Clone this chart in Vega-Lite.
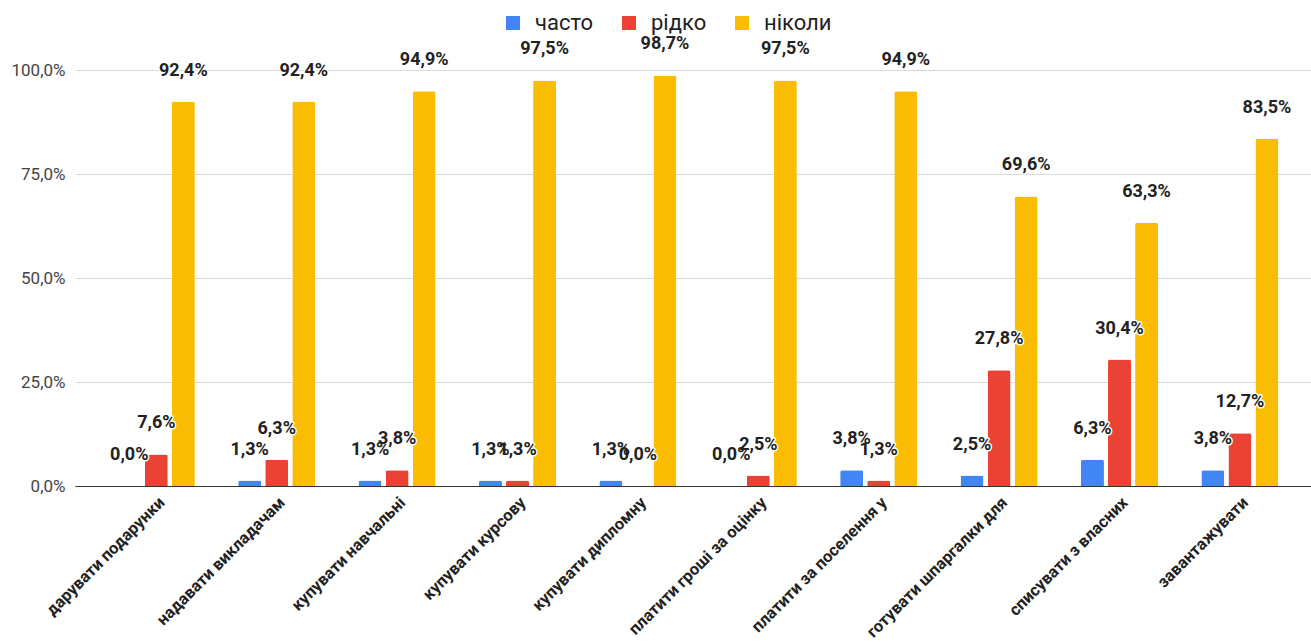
{
  "$schema": "https://vega.github.io/schema/vega-lite/v6.json",
  "width": 1236,
  "height": 416,
  "autosize": {"type": "none"},
  "padding": {"left": 75, "top": 70, "right": 0, "bottom": 156},
  "config": {
    "locale": {"number": {"decimal": ",", "thousands": " ", "grouping": [3], "currency": ["", " ₴"]}},
    "view": {"stroke": null},
    "font": "Roboto"
  },
  "data": {
    "values": [
      {"cat": "дарувати подарунки", "series": "часто", "value": 0.0},
      {"cat": "дарувати подарунки", "series": "рідко", "value": 0.076},
      {"cat": "дарувати подарунки", "series": "ніколи", "value": 0.924},
      {"cat": "надавати викладачам", "series": "часто", "value": 0.013},
      {"cat": "надавати викладачам", "series": "рідко", "value": 0.063},
      {"cat": "надавати викладачам", "series": "ніколи", "value": 0.924},
      {"cat": "купувати навчальні", "series": "часто", "value": 0.013},
      {"cat": "купувати навчальні", "series": "рідко", "value": 0.038},
      {"cat": "купувати навчальні", "series": "ніколи", "value": 0.949},
      {"cat": "купувати курсову", "series": "часто", "value": 0.013},
      {"cat": "купувати курсову", "series": "рідко", "value": 0.013},
      {"cat": "купувати курсову", "series": "ніколи", "value": 0.975},
      {"cat": "купувати дипломну", "series": "часто", "value": 0.013},
      {"cat": "купувати дипломну", "series": "рідко", "value": 0.0},
      {"cat": "купувати дипломну", "series": "ніколи", "value": 0.987},
      {"cat": "платити гроші за оцінку", "series": "часто", "value": 0.0},
      {"cat": "платити гроші за оцінку", "series": "рідко", "value": 0.025},
      {"cat": "платити гроші за оцінку", "series": "ніколи", "value": 0.975},
      {"cat": "платити за поселення у", "series": "часто", "value": 0.038},
      {"cat": "платити за поселення у", "series": "рідко", "value": 0.013},
      {"cat": "платити за поселення у", "series": "ніколи", "value": 0.949},
      {"cat": "готувати шпаргалки для", "series": "часто", "value": 0.025},
      {"cat": "готувати шпаргалки для", "series": "рідко", "value": 0.278},
      {"cat": "готувати шпаргалки для", "series": "ніколи", "value": 0.696},
      {"cat": "списувати з власних", "series": "часто", "value": 0.063},
      {"cat": "списувати з власних", "series": "рідко", "value": 0.304},
      {"cat": "списувати з власних", "series": "ніколи", "value": 0.633},
      {"cat": "завантажувати", "series": "часто", "value": 0.038},
      {"cat": "завантажувати", "series": "рідко", "value": 0.127},
      {"cat": "завантажувати", "series": "ніколи", "value": 0.835}
    ]
  },
  "encoding": {
    "x": {
      "field": "cat", "type": "nominal", "sort": null,
      "scale": {"paddingInner": 0, "paddingOuter": 0.133, "align": 0.66},
      "axis": {
        "title": null, "labelAngle": -45, "labelFontSize": 16.5, "labelFontWeight": "bold",
        "labelColor": "#222", "ticks": false, "domainColor": "#333", "labelPadding": 8,
        "grid": false, "labelLimit": 300
      }
    },
    "xOffset": {
      "field": "series", "type": "nominal", "sort": ["часто", "рідко", "ніколи"],
      "scale": {"paddingInner": 0.15, "paddingOuter": 0.8}
    },
    "y": {
      "field": "value", "type": "quantitative",
      "scale": {"domain": [0, 1]},
      "axis": {
        "title": null, "values": [0, 0.25, 0.5, 0.75, 1], "format": ".1%", "domain": false,
        "ticks": false, "labelFontSize": 17, "labelColor": "#444", "labelPadding": 10,
        "gridColor": "#d9d9d9"
      }
    }
  },
  "layer": [
    {
      "mark": {"type": "bar", "cornerRadiusEnd": 2},
      "encoding": {
        "color": {
          "field": "series", "type": "nominal",
          "scale": {"domain": ["часто", "рідко", "ніколи"], "range": ["#4285F4", "#EA4335", "#FBBC04"]},
          "legend": {
            "title": null, "orient": "none", "legendX": 427, "legendY": -58,
            "direction": "horizontal", "symbolType": "square", "symbolSize": 196,
            "symbolStrokeWidth": 0, "labelFontSize": 22, "labelColor": "#222",
            "labelOffset": 11, "columnPadding": 24
          }
        }
      }
    },
    {
      "mark": {"type": "text", "dy": -31, "fontWeight": "bold", "fontSize": 18, "stroke": "white", "strokeWidth": 3, "strokeJoin": "round", "fill": "white"},
      "encoding": {"text": {"field": "value", "type": "quantitative", "format": ".1%"}}
    },
    {
      "mark": {"type": "text", "dy": -31, "fontWeight": "bold", "fontSize": 18, "fill": "#222"},
      "encoding": {"text": {"field": "value", "type": "quantitative", "format": ".1%"}}
    }
  ]
}
